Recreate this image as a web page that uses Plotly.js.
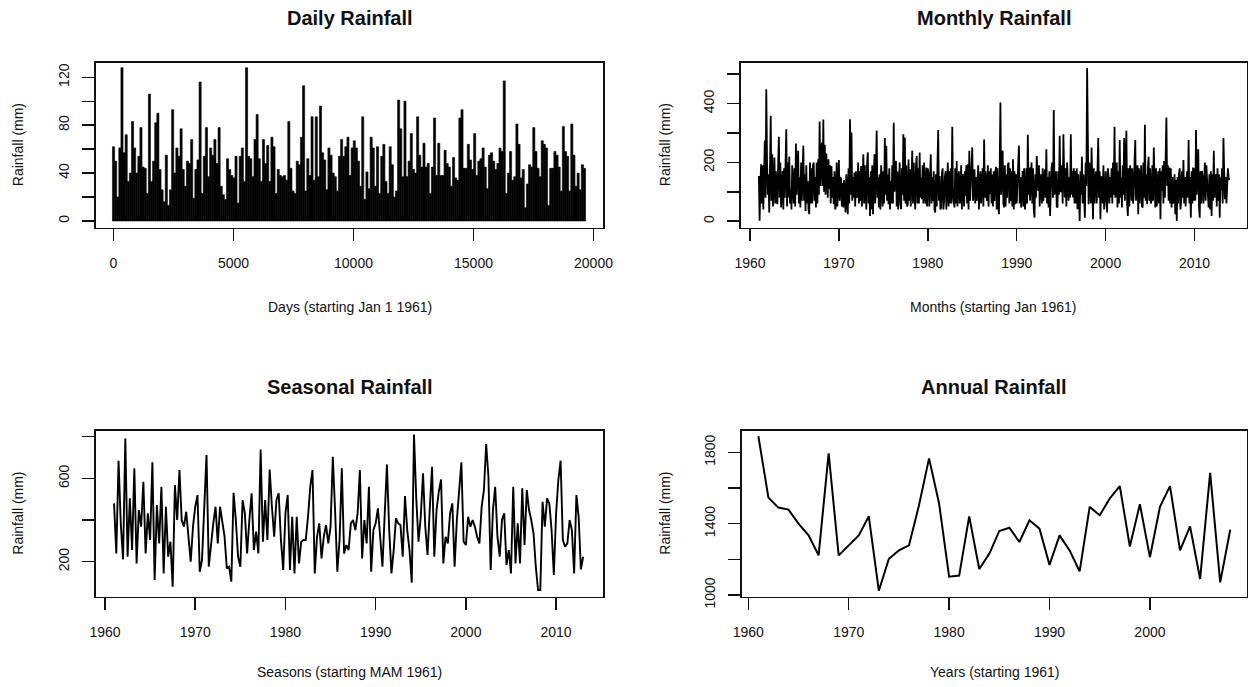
<!DOCTYPE html>
<html>
<head>
<meta charset="utf-8">
<script src="https://cdn.plot.ly/plotly-3.0.1.min.js"></script>
<style>html,body{margin:0;padding:0;background:#fff;}#chart{width:1248px;height:687px;}</style>
</head>
<body>
<div id="chart"></div>
<script>
// ---------------- DATA ----------------
// Daily rainfall (mm): per-column maxima of the daily spikes, one value per ~88 days from Jan 1 1961
const dailyRain = [
62,50,20,61,128,57,72,33,40,83,61,40,54,78,45,44,23,106,33,50,
82,90,43,26,16,55,13,26,93,40,61,54,77,43,29,50,48,68,19,43,
51,116,23,54,78,37,61,55,68,48,78,29,22,18,52,43,38,36,54,15,
54,61,33,128,54,52,37,68,89,52,33,68,48,63,33,70,62,23,43,38,
37,38,34,83,44,25,23,50,47,70,113,25,52,38,87,34,87,
37,96,57,51,26,61,55,40,37,25,54,68,54,62,70,38,61,67,61,50,
29,87,18,41,27,70,61,29,62,23,54,64,33,23,62,47,20,25,101,77,
37,100,37,50,73,43,40,87,55,45,65,45,48,23,45,86,38,65,38,38,
59,48,45,29,53,36,34,86,93,44,44,64,51,43,73,38,50,52,61,45,
27,55,57,50,43,48,61,58,117,23,40,58,34,37,81,64,36,43,11,31,
47,45,78,58,44,37,67,64,61,13,44,44,58,55,45,25,79,58,54,25,
81,55,29,40,26,47,44
];
const dailyStep = 88;        // days between stored values
const dailyStart = 1;        // day index of first value

// Monthly rainfall (mm), Jan 1961 .. Dec 2013, 12 values per year
const monthlyRain = [
154,2,120,194,60,190,40,160,274,80,449,210,
90,160,30,180,359,70,228,50,190,217,60,170,
70,58,190,287,80,200,47,150,171,40,180,80,
190,313,50,200,81,220,60,109,40,190,126,60,
180,50,264,90,170,240,60,150,47,200,70,150,
257,70,160,35,190,60,137,40,24,200,60,180,
60,190,200,70,150,47,200,60,211,90,339,120,
250,268,120,346,100,260,90,230,166,80,211,110,
190,60,188,80,150,58,170,40,52,200,50,160,
208,70,150,143,50,130,47,140,40,30,160,50,
24,180,60,347,90,302,70,150,80,166,50,170,
80,92,200,60,171,70,188,50,190,228,60,190,
115,40,190,234,60,150,18,170,40,190,24,150,
228,60,200,308,80,150,47,160,40,190,137,50,
170,60,283,90,257,70,160,58,180,40,137,60,
190,60,335,100,180,205,50,170,40,98,200,60,
41,180,90,296,70,285,60,190,50,58,210,70,
177,50,190,240,60,200,103,40,190,222,60,180,
60,234,80,150,75,190,60,200,92,60,183,50,
180,160,50,190,228,60,150,69,170,40,30,160,
50,190,310,70,154,40,47,160,180,40,69,150,
170,40,109,200,50,171,60,180,60,321,90,50,
47,180,60,205,50,132,170,60,75,190,40,160,
137,50,170,86,190,60,194,40,240,70,150,190,
251,70,150,177,60,150,69,170,190,40,92,170,
60,160,180,50,278,80,170,92,69,190,50,170,
92,180,60,160,50,170,69,160,185,40,180,60,
24,180,404,90,170,240,60,47,190,50,160,80,
190,200,60,180,69,170,50,211,40,170,58,160,
60,126,190,257,60,150,47,170,171,50,180,40,
69,180,60,294,90,183,70,150,200,60,180,40,
12,160,80,222,170,103,190,50,137,160,60,180,
69,170,177,80,245,60,150,47,170,18,150,180,
200,80,378,90,137,170,50,47,170,90,291,100,
103,190,60,296,160,81,180,50,200,154,70,150,
80,296,90,170,81,180,60,171,60,180,41,160,
60,1,170,90,219,60,160,30,12,200,120,521,
90,58,200,140,60,251,50,7,180,60,137,170,
60,200,283,80,170,7,150,149,60,190,40,69,
170,60,30,180,154,60,150,81,180,60,200,90,
321,80,103,200,47,170,60,276,80,150,47,190,
90,283,70,190,308,60,18,180,50,190,160,70,
180,60,92,200,276,70,150,190,24,180,60,115,
190,50,47,200,80,328,70,160,58,180,219,70,
180,60,69,190,70,251,60,47,180,50,92,170,
60,180,7,170,103,190,60,205,80,200,353,120,
190,70,183,60,180,47,150,60,81,160,24,140,
1,150,60,160,180,40,69,170,80,208,60,150,
50,132,170,80,276,60,150,12,170,60,183,70,
180,70,310,90,160,245,50,12,170,60,171,150,
60,180,200,70,190,137,50,47,160,40,170,18,
160,70,240,80,126,160,50,180,69,160,12,150,
103,180,60,283,170,75,150,60,115,180,149,140
];
const monthlyStartYear = 1961;

// Seasonal rainfall (mm), 4 seasons per year starting MAM 1961
const seasonalRain = [
480,240,685,380,211,792,224,504,
256,648,192,448,368,584,240,432,
304,677,112,472,288,560,144,464,
224,296,80,568,400,640,400,368,
440,320,200,368,464,520,152,208,
432,712,176,288,384,464,288,464,
384,320,168,176,104,531,400,224,
176,496,432,240,400,528,256,344,
240,739,296,496,304,643,464,320,
496,528,304,160,432,520,160,416,
144,416,192,296,304,304,416,560,
640,144,320,384,216,320,376,288,
368,704,448,152,304,648,240,280,
256,384,400,352,432,640,216,400,
288,560,152,352,384,456,320,176,
424,667,352,144,256,408,384,376,
224,515,352,256,99,811,504,296,
416,624,368,232,456,656,224,448,
536,595,192,320,288,432,480,176,
400,552,677,296,280,416,368,400,
368,320,288,464,544,765,608,160,
448,560,320,224,400,432,184,256,
144,560,192,384,192,552,280,544,
448,400,336,176,64,64,488,368,
504,480,352,136,432,592,685,304,
272,288,400,352,144,520,416,163,
224
];
const seasonalStartYear = 1961;

// Annual rainfall (mm), 1961 .. 2008
const annualRain = [
1890,1546,1490,1479,1400,1334,1222,1794,1222,1278,
1334,1441,1024,1203,1250,1278,1503,1766,1513,1103,
1109,1441,1146,1231,1359,1377,1297,1419,1372,1169,
1334,1250,1133,1494,1447,1541,1610,1272,1509,1212,
1494,1610,1250,1385,1090,1685,1071,1366
];
const annualStartYear = 1961;

// Tick values / labels
const dailyXTicks = [0,5000,10000,15000,20000];
const dailyYTicks = [0,20,40,60,80,100,120];
const dailyYLabels = ['0','','40','','80','','120'];
const yearTicks = [1960,1970,1980,1990,2000,2010];
const annualXTicks = [1960,1970,1980,1990,2000];
const monthlyYTicks = [0,100,200,300,400,500];
const monthlyYLabels = ['0','','200','','400',''];
const seasonalYTicks = [200,400,600,800];
const seasonalYLabels = ['200','','600',''];
const annualYTicks = [1000,1200,1400,1600,1800];
const annualYLabels = ['1000','','1400','','1800'];

const titles = ['Daily Rainfall','Monthly Rainfall','Seasonal Rainfall','Annual Rainfall'];
const xTitles = ['Days (starting Jan 1 1961)','Months (starting Jan 1961)','Seasons (starting MAM 1961)','Years (starting 1961)'];
const yTitle = 'Rainfall (mm)';

// ---------------- BUILD ----------------
const W = 1248, H = 687;
const FONT = 'Liberation Sans, Arial, sans-serif';
const px = v => v / W;
const py = v => 1 - v / H;

const dailyX = dailyRain.map((v, i) => dailyStart + i * dailyStep);
const monthlyX = monthlyRain.map((v, i) => monthlyStartYear + i / 12);
const seasonalX = seasonalRain.map((v, i) => seasonalStartYear + i / 4);
const annualX = annualRain.map((v, i) => annualStartYear + i);

const traces = [
  {type:'bar', x: dailyX, y: dailyRain, width: dailyStep, xaxis:'x', yaxis:'y',
   marker:{color:'#000', line:{color:'#000', width:0.6}}, hoverinfo:'x+y'},
  {type:'scatter', mode:'lines', x: monthlyX, y: monthlyRain, xaxis:'x2', yaxis:'y2',
   line:{color:'#000', width:1.8}},
  {type:'scatter', mode:'lines', x: seasonalX, y: seasonalRain, xaxis:'x3', yaxis:'y3',
   line:{color:'#000', width:1.9}},
  {type:'scatter', mode:'lines', x: annualX, y: annualRain, xaxis:'x4', yaxis:'y4',
   line:{color:'#000', width:2}}
];

// panel boxes in pixels: [left, top, right, bottom]
const boxes = [
  [96, 62.7, 603, 227.7],
  [741, 62.7, 1247, 227.7],
  [96, 430.7, 603, 596.7],
  [741.7, 430.7, 1247, 596.7]
];

function axisBase(extra) {
  return Object.assign({
    showline: true, mirror: true, linecolor: '#111', linewidth: 1.6,
    ticks: 'outside', ticklen: 12, tickwidth: 1.5, tickcolor: '#111',
    showgrid: false, zeroline: false, fixedrange: true,
    tickfont: {family: FONT, size: 14, color: '#111'},
    tickmode: 'array'
  }, extra);
}

const layout = {
  width: W, height: H,
  margin: {l:0, r:0, t:0, b:0},
  paper_bgcolor: '#fff', plot_bgcolor: '#fff',
  showlegend: false, bargap: 0,
  font: {family: FONT, color: '#111'},
  xaxis: axisBase({domain:[px(boxes[0][0]), px(boxes[0][2])], anchor:'y', range:[-729, 20396],
    tickvals: dailyXTicks, ticktext: dailyXTicks.map(String), ticklabelstandoff: 10}),
  yaxis: axisBase({domain:[py(boxes[0][3]), py(boxes[0][1])], anchor:'x', range:[-5.6, 132.2],
    tickvals: dailyYTicks, ticktext: dailyYLabels, tickangle: -90, ticklabelstandoff: 8}),
  xaxis2: axisBase({domain:[px(boxes[1][0]), px(boxes[1][2])], anchor:'y2', range:[1958.99, 2015.9],
    tickvals: yearTicks, ticktext: yearTicks.map(String), ticklabelstandoff: 10}),
  yaxis2: axisBase({domain:[py(boxes[1][3]), py(boxes[1][1])], anchor:'x2', range:[-22, 539],
    tickvals: monthlyYTicks, ticktext: monthlyYLabels, tickangle: -90, ticklabelstandoff: 8}),
  xaxis3: axisBase({domain:[px(boxes[2][0]), px(boxes[2][2])], anchor:'y3', range:[1959.0, 2015.2],
    tickvals: yearTicks, ticktext: yearTicks.map(String), ticklabelstandoff: 10}),
  yaxis3: axisBase({domain:[py(boxes[2][3]), py(boxes[2][1])], anchor:'x3', range:[32, 829],
    tickvals: seasonalYTicks, ticktext: seasonalYLabels, tickangle: -90, ticklabelstandoff: 8}),
  xaxis4: axisBase({domain:[px(boxes[3][0]), px(boxes[3][2])], anchor:'y4', range:[1959.34, 2009.67],
    tickvals: annualXTicks, ticktext: annualXTicks.map(String), ticklabelstandoff: 10}),
  yaxis4: axisBase({domain:[py(boxes[3][3]), py(boxes[3][1])], anchor:'x4', range:[990.5, 1921],
    tickvals: annualYTicks, ticktext: annualYLabels, tickangle: -90, ticklabelstandoff: 8}),
  annotations: []
};

const titleY = [18, 18, 387, 387];
const xTitleY = [307, 307, 672, 672];
const yTitleX = [18, 665, 18, 665];
boxes.forEach((b, k) => {
  const cx = (b[0] + b[2]) / 2, cy = (b[1] + b[3]) / 2;
  layout.annotations.push({text: '<b>' + titles[k] + '</b>', xref:'paper', yref:'paper',
    x: px(cx), y: py(titleY[k]), xanchor:'center', yanchor:'middle', showarrow:false,
    font:{family: FONT, size: 20, color:'#111'}});
  layout.annotations.push({text: xTitles[k], xref:'paper', yref:'paper',
    x: px(cx), y: py(xTitleY[k]), xanchor:'center', yanchor:'middle', showarrow:false,
    font:{family: FONT, size: 14, color:'#111'}});
  layout.annotations.push({text: yTitle, xref:'paper', yref:'paper', textangle: -90,
    x: px(yTitleX[k]), y: py(cy), xanchor:'center', yanchor:'middle', showarrow:false,
    font:{family: FONT, size: 14, color:'#111'}});
});

Plotly.newPlot('chart', traces, layout, {displayModeBar:false, staticPlot:true});
</script>
</body>
</html>
